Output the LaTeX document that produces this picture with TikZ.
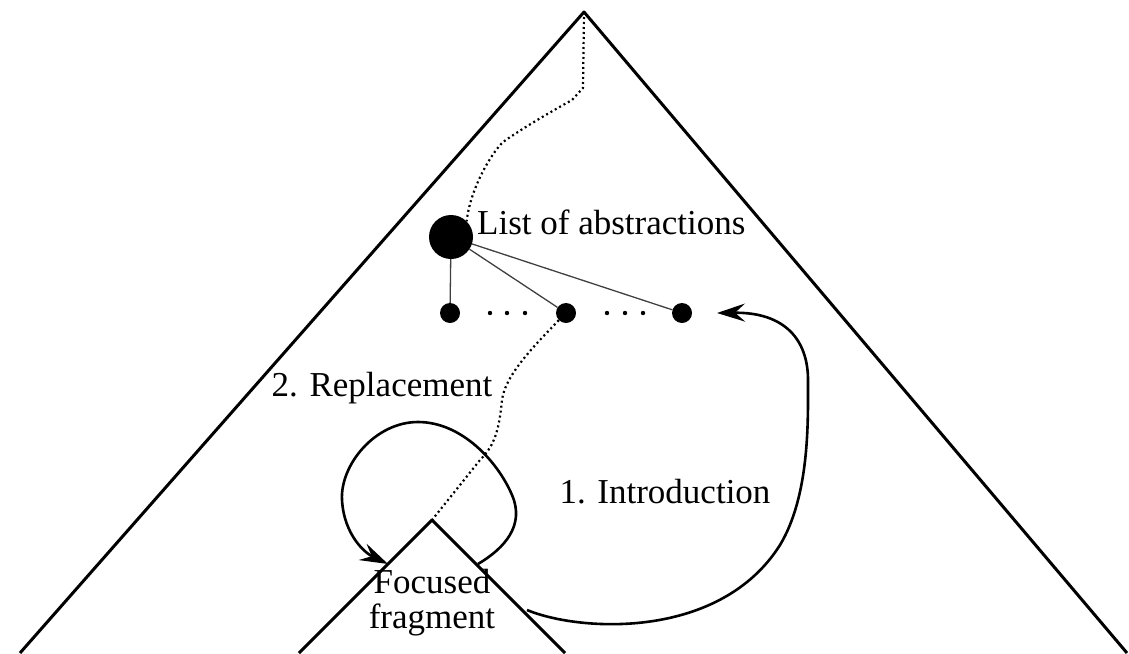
\documentclass[tikz,border=0pt]{standalone}
\usepackage{fontspec}
\setmainfont{Liberation Serif}
\usetikzlibrary{arrows.meta}
\begin{document}
\begin{tikzpicture}[x=1pt,y=-1pt,line join=round,
  tri/.style={line width=3pt},
  link/.style={line width=1.3pt,black!75},
  dotpath/.style={line width=2.2pt,dash pattern=on 2pt off 3pt},
  arr/.style={line width=2.6pt,-{Stealth[length=28pt,width=18pt,inset=10pt]}},
  bigdot/.style={circle,fill,inner sep=0pt,minimum size=44pt},
  smalldot/.style={circle,fill,inner sep=0pt,minimum size=20pt},
  lbl/.style={inner sep=0pt,font=\fontsize{35}{40}\selectfont}]
\useasboundingbox (0,0) rectangle (1129,653);
% big triangle
\coordinate (apex) at (584,12);
\coordinate (bl) at (20,653);
\coordinate (br) at (1127,653);
\draw[tri] (bl) -- (apex) -- (br);
% small triangle
\coordinate (sapex) at (432,520);
\coordinate (sbl) at (299,653);
\coordinate (sbr) at (565,653);
\draw[tri] (sbl) -- (sapex) -- (sbr);
% dots
\node[bigdot] (root) at (451,237) {};
\node[smalldot] (d1) at (450,313) {};
\node[smalldot] (d2) at (566,313) {};
\node[smalldot] (d3) at (682,313) {};
\foreach \x in {490,507,525,607,625,643} \fill (\x,313) circle (2.2pt);
\draw[link] (root) -- (d1);
\draw[link] (root) -- (d2);
\draw[link] (root) -- (d3);
% dotted paths
\draw[dotpath] (apex) -- (583,88) -- (572,100) .. controls (545,115) and (520,130) .. (503,142)
  .. controls (490,155) and (470,190) .. (root.north east);
\draw[dotpath] (d2.south west) .. controls (535,345) and (505,375) .. (502,400)
  .. controls (499,430) and (495,445) .. (480,460) -- (sapex);
% labels
\node[lbl,anchor=west] (la) at (477,222) {List of abstractions};
\node[lbl] (lr) at (382,388) {2. Replacement};
\node[lbl] (li) at (665,492) {1. Introduction};
\node[lbl,align=center] (lf) at (432,603) {Focused\\[-5pt]fragment};
% replacement loop
\coordinate (rs) at (478,564);
\coordinate (re) at (388,564);
\draw[arr] (rs) .. controls (505,548) and (525,525) .. (512,495)
  .. controls (498,462) and (462,422) .. (418,422)
  .. controls (375,422) and (340,465) .. (342,500)
  .. controls (344,535) and (365,553) .. (re);
% introduction arrow
\coordinate (is) at (527,610);
\coordinate (ie) at (717,313);
\draw[arr] (is) .. controls (580,632) and (720,640) .. (780,545)
  .. controls (810,495) and (808,420) .. (808,380)
  .. controls (808,340) and (785,312) .. (ie);
\end{tikzpicture}
\end{document}
